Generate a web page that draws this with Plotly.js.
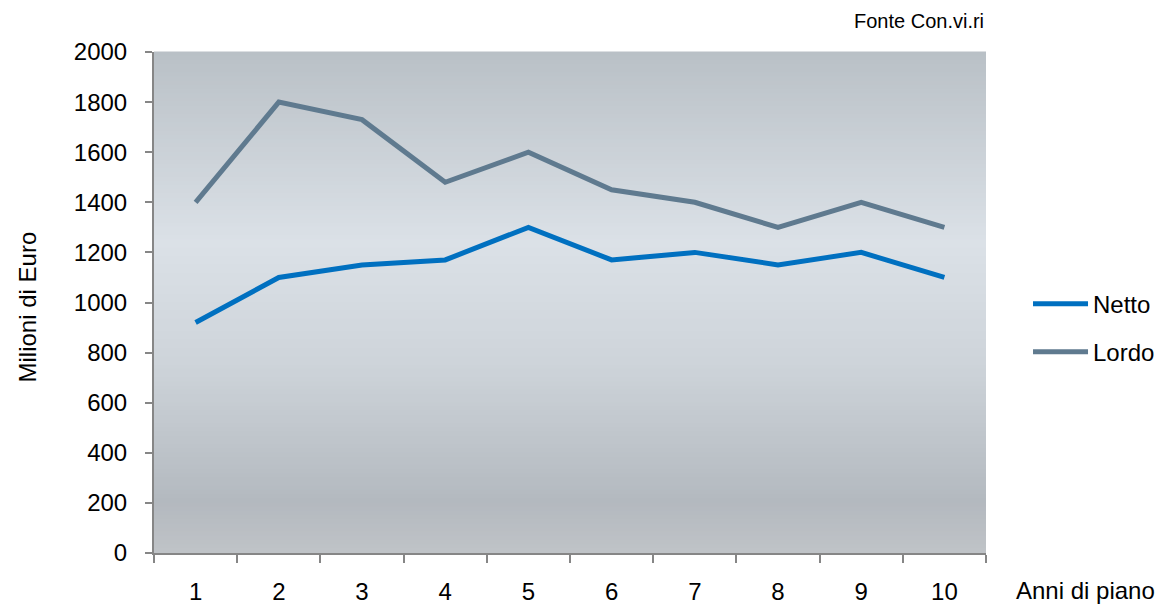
<!DOCTYPE html>
<html>
<head>
<meta charset="utf-8">
<script src="https://cdn.plot.ly/plotly-3.0.1.min.js"></script>
<style>html,body{margin:0;padding:0;background:#fff;}#chart{width:1160px;height:605px;}</style>
</head>
<body>
<div id="chart"></div>
<script>
const years = ['1','2','3','4','5','6','7','8','9','10'];
const netto = [920, 1100, 1150, 1170, 1300, 1170, 1200, 1150, 1200, 1100];
const lordo = [1400, 1800, 1730, 1480, 1600, 1450, 1400, 1300, 1400, 1300];
const yTicks = [0, 200, 400, 600, 800, 1000, 1200, 1400, 1600, 1800, 2000];

// background gradient (top -> bottom)
const stops = [[0, [185,192,198]], [0.38, [219,225,231]], [0.62, [206,212,218]], [0.9, [179,185,191]], [1, [191,195,199]]];
function colAt(t){
  for (let i=0;i<stops.length-1;i++){
    const [t0,c0]=stops[i],[t1,c1]=stops[i+1];
    if (t>=t0 && t<=t1){
      const f=(t-t0)/(t1-t0);
      return 'rgb('+c0.map((v,k)=>Math.round(v+(c1[k]-v)*f)).join(',')+')';
    }
  }
  return 'rgb(191,195,199)';
}
const shapes=[];
const N=120;
for (let i=0;i<N;i++){
  const t=(i+0.5)/N;
  shapes.push({type:'rect', xref:'x domain', yref:'y domain', x0:0, x1:1, y0:1-(i+1)/N-0.001, y1:1-i/N+0.001,
    fillcolor:colAt(t), line:{width:0}, layer:'below'});
}

const font = 'Liberation Sans, Arial, sans-serif';
const data = [
  {x: years, y: netto, name: 'Netto', legendgroup: 'n', type: 'scatter', mode: 'lines', line: {color: '#0070C0', width: 5}},
  {x: years, y: lordo, name: 'Lordo', legendgroup: 'l', type: 'scatter', mode: 'lines', line: {color: '#5F7A8F', width: 5}}
];
const layout = {
  width: 1160, height: 605,
  margin: {l: 154, r: 174, t: 52, b: 52, autoexpand: false},
  paper_bgcolor: '#ffffff', plot_bgcolor: 'rgba(0,0,0,0)',
  font: {family: font, color: '#000', size: 24},
  showlegend: true,
  legend: {x: 1.0505, xanchor: 'left', xref: 'paper', y: 0.449, yanchor: 'middle', font: {size: 24, family: font},
    itemwidth: 55, tracegroupgap: 14, bgcolor: 'rgba(0,0,0,0)', borderwidth: 0},
  xaxis: {type: 'category', range: [-0.5, 9.5], tickson: 'boundaries', ticks: 'outside', ticklen: 8, tickwidth: 2, tickcolor: '#868686',
    showline: true, linecolor: '#868686', linewidth: 2, showgrid: false, zeroline: false, automargin: false,
    ticklabelstandoff: 16, tickfont: {size: 24, family: font}, fixedrange: true},
  yaxis: {range: [0, 2000], tickvals: yTicks, ticks: 'outside', ticklen: 7, tickwidth: 2, tickcolor: '#868686',
    showline: true, linecolor: '#868686', linewidth: 2, showgrid: false, zeroline: false, automargin: false,
    ticklabelstandoff: 13, tickfont: {size: 24, family: font}, fixedrange: true},
  shapes: shapes,
  annotations: [
    {text: 'Fonte Con.vi.ri', xref: 'paper', yref: 'paper', x: 1, y: 1, xanchor: 'right', yanchor: 'middle', yshift: 31, xshift: 0,
      showarrow: false, font: {size: 20, family: font}},
    {text: 'Anni di piano', xref: 'paper', yref: 'paper', x: 1, y: 0, xanchor: 'left', yanchor: 'middle', xshift: 28, yshift: -37,
      showarrow: false, font: {size: 24, family: font}},
    {text: 'Milioni di Euro', xref: 'paper', yref: 'paper', x: 0, y: 0.5, xanchor: 'center', yanchor: 'middle', xshift: -127, yshift: -5,
      textangle: -90, showarrow: false, font: {size: 24, family: font}}
  ]
};
Plotly.newPlot('chart', data, layout, {displayModeBar: false, staticPlot: true});
</script>
</body>
</html>
